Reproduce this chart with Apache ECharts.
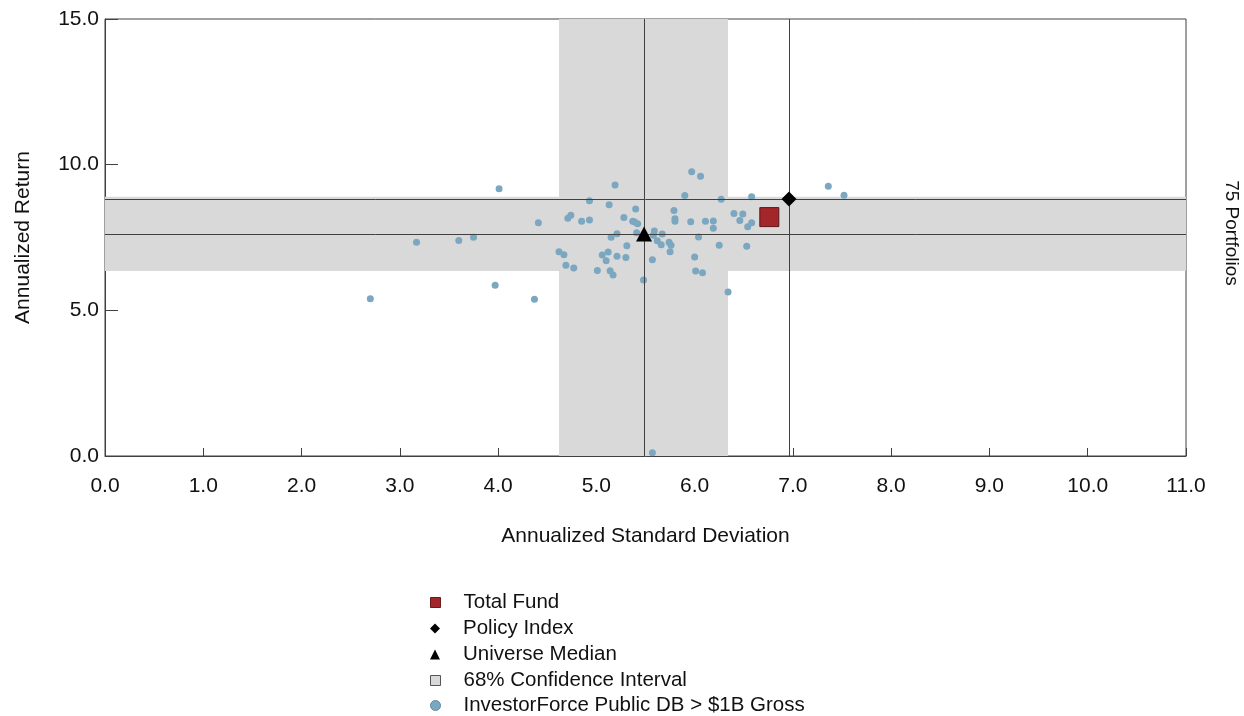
<!DOCTYPE html>
<html>
<head>
<meta charset="utf-8">
<script src="https://cdn.jsdelivr.net/npm/echarts@6/dist/echarts.min.js"></script>
<style>
html,body{margin:0;padding:0;background:#fff;}
#c{width:1244px;height:716px;}
</style>
</head>
<body>
<div id="c"></div>
<script>
// ---- data ----
const universeStdDev = [4.01,4.41,3.17,3.60,3.75,4.62,4.67,4.69,3.97,2.70,4.37,
  5.97,6.06,5.19,5.90,4.93,6.27,6.58,5.13,5.40,5.79,4.74,4.71,4.85,4.93,5.28,5.37,5.39,5.42,5.80,5.80,
  5.96,6.11,6.19,6.19,6.40,6.49,6.46,6.54,6.58,5.15,5.21,5.41,5.59,5.58,5.67,5.62,5.66,5.74,5.76,5.75,
  6.04,6.25,6.53,5.31,5.12,5.06,5.21,5.30,5.10,5.57,6.00,4.77,5.01,5.14,5.17,6.01,6.08,5.48,6.34,
  7.36,7.52,5.57];
const universeReturn = [9.17,8.01,7.34,7.40,7.51,7.01,6.91,6.55,5.86,5.40,5.38,
  9.76,9.60,9.30,8.94,8.76,8.81,8.90,8.62,8.48,8.43,8.26,8.16,8.06,8.10,8.19,8.06,8.03,7.97,8.14,8.06,
  8.04,8.06,8.07,7.82,8.32,8.31,8.08,7.87,8.01,7.51,7.63,7.66,7.72,7.58,7.62,7.39,7.25,7.34,7.23,7.01,
  7.52,7.23,7.20,7.22,7.00,6.90,6.86,6.81,6.70,6.74,6.83,6.45,6.37,6.36,6.21,6.35,6.29,6.04,5.63,
  9.26,8.95,0.11];
const totalFund = [6.76, 8.20];
const policyIndex = [6.96, 8.82];
const universeMedian = [5.485, 7.62];
const ciStdDev = [4.62, 6.34];
const ciReturn = [6.35, 8.90];
const xTicks = {min: 0, max: 11, interval: 1};
const yTicks = {min: 0, max: 15, interval: 5};
const portfolioCount = 75;
const legendNames = ['Total Fund','Policy Index','Universe Median','68% Confidence Interval','InvestorForce Public DB > $1B Gross'];

const FONT = '"Liberation Sans", Arial, sans-serif';
const LINE = '#404040';
const AX = 21;
const chart = echarts.init(document.getElementById('c'), null, {renderer:'canvas'});

const universePts = universeStdDev.map((x,i)=>[x, universeReturn[i]]);

const legendIcons = [
  {icon:'rect', itemStyle:{color:'#a3262b', borderColor:'#6e1a1d', borderWidth:1, opacity:1}},
  {icon:'diamond', itemStyle:{color:'#000', opacity:1}},
  {icon:'triangle', itemStyle:{color:'#000', opacity:1}},
  {icon:'rect', itemStyle:{color:'#d9d9d9', borderColor:'#555', borderWidth:1, opacity:1}},
  {icon:'circle', itemStyle:{color:'#7ba7c0', borderColor:'#5f8aa3', borderWidth:1, opacity:1}}
];
const legendRowTop = [592, 618, 644, 670, 695];
const legends = legendNames.map((n,i)=>({
  orient:'vertical', left:430, top:legendRowTop[i], padding:0,
  itemWidth:10, itemHeight:10,
  textStyle:{fontSize:20.5, color:'#111', lineHeight:20, fontFamily:FONT, padding:[0,0,0,18]},
  data:[Object.assign({name:n}, legendIcons[i])]
}));

chart.setOption({
  animation:false,
  backgroundColor:'#fff',
  textStyle:{fontFamily:FONT},
  grid:{left:105, top:19, right:58, bottom:260, show:true, borderColor:LINE, borderWidth:1, containLabel:false},
  xAxis:{
    type:'value', min:xTicks.min, max:xTicks.max, interval:xTicks.interval,
    name:'Annualized Standard Deviation', nameLocation:'middle', nameGap:70,
    nameTextStyle:{fontSize:AX, color:'#111', fontFamily:FONT},
    axisLine:{show:true, lineStyle:{color:LINE}},
    axisTick:{show:true, inside:true, length:8, lineStyle:{color:LINE}},
    axisLabel:{fontSize:AX, color:'#111', margin:20, formatter:v=>v.toFixed(1), fontFamily:FONT},
    splitLine:{show:false}
  },
  yAxis:{
    type:'value', min:yTicks.min, max:yTicks.max, interval:yTicks.interval,
    name:'Annualized Return', nameLocation:'middle', nameGap:71,
    nameTextStyle:{fontSize:AX, color:'#111', fontFamily:FONT},
    axisLine:{show:true, lineStyle:{color:LINE}},
    axisTick:{show:true, inside:true, length:13, lineStyle:{color:LINE}},
    axisLabel:{fontSize:AX, color:'#111', margin:6, formatter:v=>v.toFixed(1), fontFamily:FONT},
    splitLine:{show:false}
  },
  legend:legends,
  graphic:[{
    type:'text', x:1231, y:233, rotation:-Math.PI/2,
    style:{text:portfolioCount+' Portfolios', fontSize:19, fill:'#111', align:'center', verticalAlign:'middle', fontFamily:FONT}
  }],
  series:[
    {
      name:legendNames[3], type:'scatter', data:[], z:1,
      itemStyle:{color:'#d9d9d9'},
      markArea:{
        silent:true,
        itemStyle:{color:'#d9d9d9', opacity:1},
        data:[
          [{xAxis:ciStdDev[0], yAxis:yTicks.min},{xAxis:ciStdDev[1], yAxis:yTicks.max}],
          [{xAxis:xTicks.min, yAxis:ciReturn[0]},{xAxis:xTicks.max, yAxis:ciReturn[1]}]
        ]
      },
      markLine:{
        silent:true, symbol:'none', label:{show:false},
        lineStyle:{color:LINE, width:1, type:'solid', opacity:1},
        data:[
          {xAxis:universeMedian[0]},{yAxis:universeMedian[1]},
          {xAxis:policyIndex[0]},{yAxis:policyIndex[1]}
        ]
      }
    },
    {
      name:legendNames[4], type:'scatter', data:universePts, symbol:'circle', symbolSize:7, z:3,
      itemStyle:{color:'#7ba7c0', opacity:1}
    },
    {
      name:legendNames[2], type:'scatter', data:[universeMedian], symbol:'triangle', symbolSize:[16,15], z:5,
      itemStyle:{color:'#000', opacity:1}
    },
    {
      name:legendNames[1], type:'scatter', data:[policyIndex], symbol:'diamond', symbolSize:[15,15], z:5,
      itemStyle:{color:'#000', opacity:1}
    },
    {
      name:legendNames[0], type:'scatter', data:[totalFund], symbol:'rect', symbolSize:19, z:6,
      itemStyle:{color:'#a3262b', borderColor:'#5e1518', borderWidth:1, opacity:1}
    }
  ]
});
</script>
</body>
</html>
